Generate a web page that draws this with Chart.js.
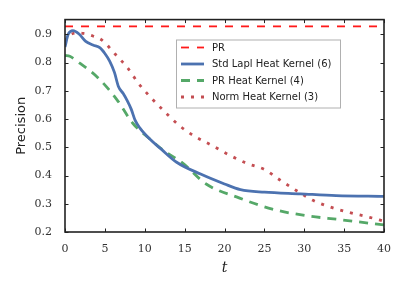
<!DOCTYPE html>
<html>
<head>
<meta charset="utf-8">
<script src="https://cdn.jsdelivr.net/npm/chart.js@4.4.1/dist/chart.umd.min.js"></script>
<style>
  html, body { margin: 0; padding: 0; background: #ffffff; }
  #wrap { width: 405px; height: 292px; }
</style>
</head>
<body>
<div id="wrap"><canvas id="c" width="405" height="292"></canvas></div>
<script>
// ---- data ----
const xTicks = [0, 5, 10, 15, 20, 25, 30, 35, 40];
const yTicks = [0.2, 0.3, 0.4, 0.5, 0.6, 0.7, 0.8, 0.9];

const prLabel = "PR";
const prT = [0, 40];
const prV = [0.928, 0.928];

const stdLabel = "Std Lapl Heat Kernel (6)";
const stdT = [0, 0.4, 1, 1.8, 2.6, 3.5, 4.4, 5.0, 5.6, 6.2, 6.7, 7.3, 7.8, 8.3, 8.8, 9.4, 10.6, 12, 14, 17, 20, 22, 25, 29.5, 34, 40];
const stdV = [0.855, 0.9, 0.913, 0.9, 0.875, 0.862, 0.852, 0.832, 0.805, 0.765, 0.715, 0.69, 0.665, 0.635, 0.595, 0.568, 0.53, 0.495, 0.447, 0.405, 0.37, 0.35, 0.341, 0.335, 0.329, 0.326];

const prhkLabel = "PR Heat Kernel (4)";
const prhkT = [0, 0.6, 1.9, 4, 6.5, 8.5, 10.6, 12.3, 14.8, 17.7, 21.9, 26, 30.2, 34.4, 40];
const prhkV = [0.825, 0.822, 0.797, 0.75, 0.669, 0.585, 0.53, 0.49, 0.443, 0.37, 0.32, 0.281, 0.258, 0.244, 0.225];

const normLabel = "Norm Heat Kernel (3)";
const normT = [0, 0.5, 1.5, 2.3, 3.5, 4.6, 6.25, 7.9, 9.2, 10.8, 12.5, 14.2, 16.3, 18.4, 20.5, 22.8, 25.1, 26.9, 29, 31.1, 33.4, 35.7, 38.2, 40];
const normV = [0.875, 0.895, 0.905, 0.903, 0.894, 0.88, 0.831, 0.779, 0.727, 0.675, 0.626, 0.58, 0.538, 0.507, 0.474, 0.443, 0.42, 0.385, 0.347, 0.312, 0.287, 0.269, 0.252, 0.238];

const xTitle = "t";
const yTitle = "Precision";

const pts = (ts, vs) => ts.map((t, i) => ({ x: t, y: vs[i] }));

const frameColor = '#222222';

const framePlugin = {
  id: 'frameTicks',
  afterDatasetsDraw(chart) {
    const { ctx, chartArea: a, scales } = chart;
    ctx.save();
    ctx.strokeStyle = frameColor;
    ctx.lineWidth = 1;
    const L = 3.5;
    ctx.beginPath();
    xTicks.forEach(v => {
      const px = Math.round(scales.x.getPixelForValue(v)) + 0.5;
      ctx.moveTo(px, a.bottom); ctx.lineTo(px, a.bottom - L);
      ctx.moveTo(px, a.top); ctx.lineTo(px, a.top + L);
    });
    yTicks.forEach(v => {
      const py = Math.round(scales.y.getPixelForValue(v)) + 0.5;
      ctx.moveTo(a.left, py); ctx.lineTo(a.left + L, py);
      ctx.moveTo(a.right, py); ctx.lineTo(a.right - L, py);
    });
    ctx.stroke();
    ctx.lineWidth = 1.6;
    ctx.strokeRect(a.left, a.top, a.right - a.left, a.bottom - a.top);
    ctx.restore();
  }
};

const legendPlugin = {
  id: 'innerLegend',
  afterDraw(chart) {
    const { ctx } = chart;
    const bx = 176, by = 39.5, bw = 164, bh = 68;
    ctx.save();
    ctx.fillStyle = 'rgba(255,255,255,0.9)';
    ctx.fillRect(bx, by, bw, bh);
    ctx.strokeStyle = '#b0b0b0';
    ctx.lineWidth = 1;
    ctx.strokeRect(bx + 0.5, by + 0.5, bw, bh);
    const rowY = [47.5, 64, 80.5, 97];
    chart.data.datasets.forEach((ds, i) => {
      const y = rowY[i];
      ctx.beginPath();
      ctx.strokeStyle = ds.borderColor;
      ctx.lineWidth = ds.borderWidth;
      ctx.setLineDash(ds.borderDash || []);
      ctx.lineCap = 'butt';
      ctx.moveTo(181, y); ctx.lineTo(204, y);
      ctx.stroke();
      ctx.setLineDash([]);
      ctx.fillStyle = '#222222';
      ctx.font = '10px "DejaVu Sans"';
      ctx.textBaseline = 'middle';
      ctx.textAlign = 'left';
      ctx.fillText(ds.label, 212, y + 0.5);
    });
    ctx.restore();
  }
};

new Chart(document.getElementById('c'), {
  type: 'line',
  data: {
    datasets: [
      { label: prLabel, data: pts(prT, prV), borderColor: '#ff1a1a', borderWidth: 1.8, borderDash: [8, 8], pointRadius: 0, tension: 0, fill: false },
      { label: stdLabel, data: pts(stdT, stdV), borderColor: '#4c72b0', borderWidth: 2.8, pointRadius: 0, cubicInterpolationMode: 'monotone', fill: false },
      { label: prhkLabel, data: pts(prhkT, prhkV), borderColor: '#55a868', borderWidth: 2.8, borderDash: [9, 7], pointRadius: 0, cubicInterpolationMode: 'monotone', fill: false },
      { label: normLabel, data: pts(normT, normV), borderColor: '#c44e52', borderWidth: 2.8, borderDash: [3, 7], pointRadius: 0, cubicInterpolationMode: 'monotone', fill: false }
    ]
  },
  options: {
    responsive: false,
    animation: false,
    devicePixelRatio: 1,
    layout: { padding: { left: 0, right: 21, top: 14, bottom: 0 } },
    plugins: { legend: { display: false }, tooltip: { enabled: false } },
    scales: {
      x: {
        type: 'linear', min: 0, max: 40,
        afterFit(s) { s.height = 60; },
        afterBuildTicks(s) { s.ticks = xTicks.map(v => ({ value: v })); },
        grid: { display: false, drawTicks: false },
        border: { display: false },
        ticks: { padding: 11, color: '#333333', font: { family: '"DejaVu Serif"', size: 11 }, maxRotation: 0 },
        title: { display: true, text: xTitle, color: '#222222', padding: { top: 0, bottom: 15 }, font: { family: '"DejaVu Serif"', size: 14, style: 'italic' } }
      },
      y: {
        type: 'linear', min: 0.2, max: 0.952,
        afterFit(s) { s.width = 65; },
        afterBuildTicks(s) { s.ticks = yTicks.map(v => ({ value: v })); },
        grid: { display: false, drawTicks: false },
        border: { display: false },
        ticks: { padding: 13, color: '#333333', font: { family: '"DejaVu Serif"', size: 11 }, callback: v => v.toFixed(1) },
        title: { display: true, text: yTitle, color: '#222222', padding: { top: 14, bottom: 0 }, font: { family: '"DejaVu Sans"', size: 13 } }
      }
    }
  },
  plugins: [framePlugin, legendPlugin]
});
</script>
</body>
</html>
